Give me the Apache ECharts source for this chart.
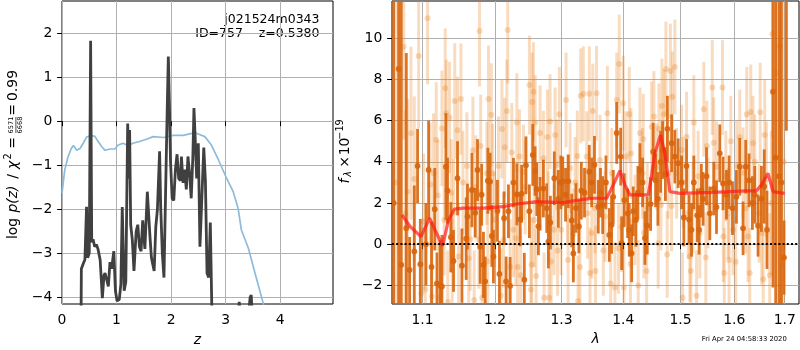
<!DOCTYPE html>
<html>
<head>
<meta charset="utf-8">
<script src="https://cdn.jsdelivr.net/npm/echarts@6.0.0/dist/echarts.min.js"></script>
<style>
  html, body { margin: 0; padding: 0; background: #fff; }
  #main { width: 800px; height: 350px; }
</style>
</head>
<body>
<div id="main"></div>
<script>
// ---- data ----
const zTicks = [0, 1, 2, 3, 4];
const logpTicks = [-4, -3, -2, -1, 0, 1, 2];
const lamTicks = [1.1, 1.2, 1.3, 1.4, 1.5, 1.6, 1.7];
const fluxTicks = [-2, 0, 2, 4, 6, 8, 10];

// blue curve, left panel [z, value]
const priorCurve = [[0,-1.64],[0.05,-1.11],[0.11,-0.81],[0.17,-0.62],[0.21,-0.55],[0.27,-0.66],[0.33,-0.62],
  [0.39,-0.5],[0.45,-0.36],[0.52,-0.33],[0.60,-0.34],[0.67,-0.47],[0.73,-0.58],[0.79,-0.66],[0.88,-0.63],
  [0.97,-0.63],[1.03,-0.54],[1.12,-0.5],[1.21,-0.55],[1.30,-0.5],[1.42,-0.46],[1.55,-0.41],[1.67,-0.35],
  [1.86,-0.37],[2.04,-0.32],[2.22,-0.32],[2.44,-0.26],[2.62,-0.35],[2.74,-0.54],[2.87,-0.88],[3.02,-1.30],
  [3.14,-1.60],[3.23,-1.98],[3.29,-2.47],[3.42,-2.89],[3.54,-3.45],[3.69,-4.13],[3.75,-4.5]];

// dark curve, left panel [z, log p(z)]
const pzCurve = [[0.35,-4.4],[0.355,-3.35],[0.38,-3.35],[0.40,-3.2],[0.42,-3.15],[0.45,-1.94],[0.47,-3.1],
  [0.50,-3.0],[0.525,1.83],[0.545,-2.75],[0.57,-2.68],[0.60,-2.85],[0.63,-2.8],[0.66,-2.9],[0.70,-3.15],
  [0.74,-4.02],[0.77,-3.5],[0.79,-3.45],[0.82,-3.6],[0.85,-3.75],[0.88,-3.2],[0.91,-3.35],[0.95,-2.95],
  [0.98,-3.85],[1.01,-4.08],[1.05,-4.05],[1.08,-3.7],[1.105,-1.95],[1.14,-3.85],[1.17,-3.65],[1.205,-0.05],
  [1.225,-1.3],[1.24,-0.2],[1.26,-2.35],[1.29,-2.7],[1.32,-3.4],[1.36,-2.5],[1.39,-2.35],[1.42,-2.85],
  [1.45,-2.95],[1.48,-2.25],[1.52,-2.9],[1.565,-1.6],[1.61,-2.55],[1.64,-3.1],[1.69,-3.4],[1.72,-2.4],
  [1.75,-2.0],[1.79,-0.68],[1.81,-1.95],[1.84,-3.0],[1.87,-3.55],[1.90,-1.6],[1.93,0.3],[1.95,1.47],
  [1.97,0.4],[1.99,-0.9],[2.02,-1.75],[2.05,-1.8],[2.08,-1.1],[2.11,-0.75],[2.14,-1.3],[2.17,-1.35],
  [2.19,-0.8],[2.22,-1.4],[2.25,-1.1],[2.28,-1.55],[2.31,-0.8],[2.34,-1.2],[2.37,-1.75],[2.40,-0.8],
  [2.42,0.3],[2.44,-0.3],[2.47,-1.3],[2.50,-0.5],[2.53,-2.85],[2.56,-1.9],[2.60,-0.6],[2.63,-1.35],
  [2.66,-3.45],[2.69,-3.55],[2.72,-2.3],[2.75,-4.4]];
const pzTail1 = [[3.23,-4.4],[3.25,-4.1],[3.27,-4.4]];
const pzTail2 = [[3.42,-4.4],[3.45,-4.0],[3.47,-3.95],[3.49,-4.4]];

// right panel, light points [lambda, flux, err]
const specLight = [[1.0659,3.0,9],[1.0753,9.58,4.5],[1.0774,1.5,5],[1.0804,2.54,4.5],[1.0848,5.38,4.2],
  [1.0891,3.17,4.0],[1.0948,9.13,3.5],[1.0983,-2.38,3.2],[1.1014,1.1,3.3],[1.1036,-2.2,3.0],[1.1066,10.96,3.2],
  [1.1102,2.9,3.0],[1.1125,-2.54,2.8],[1.1146,3.45,2.9],[1.1182,5.06,2.8],[1.1203,2.36,2.7],[1.1227,-2.6,2.6],
  [1.1259,5.62,2.8],[1.1290,1.18,2.7],[1.1304,7.57,2.9],[1.1318,6.35,2.6],[1.1338,-2.8,2.5],[1.1362,6.15,2.7],
  [1.1386,2.5,2.6],[1.1399,-1.25,2.5],[1.1417,1.54,2.6],[1.1434,6.95,2.8],[1.1472,5.53,2.6],[1.1486,-0.6,2.6],
  [1.1519,7.04,2.7],[1.1547,3.0,2.5],[1.1602,3.8,2.6],[1.1627,-0.68,2.4],[1.1648,0.24,2.5],[1.1686,4.56,2.6],
  [1.1704,-2.7,2.4],[1.1726,2.78,2.5],[1.1771,0.24,2.4],[1.1779,10.35,2.7],[1.1796,4.76,2.5],[1.1817,-2.6,2.4],
  [1.1884,3.44,2.5],[1.1896,-0.83,2.4],[1.1907,7.04,2.6],[1.1948,6.28,2.5],[1.1967,3.44,2.4],[1.1996,1.2,2.3],
  [1.2051,3.8,2.4],[1.2086,-2.5,2.3],[1.2101,5.59,2.4],[1.2124,0.2,2.3],[1.2141,4.7,2.4],[1.2173,6.46,2.5],
  [1.2185,10.39,2.6],[1.2221,-1.1,2.3],[1.2246,4.45,2.4],[1.2270,0.7,2.3],[1.2305,0.29,2.3],[1.2320,5.9,2.4],
  [1.2332,-1.1,2.3],[1.2359,4.25,2.3],[1.2377,-1.5,2.3],[1.2418,3.5,2.3],[1.2444,2.78,2.3],[1.2508,7.72,2.4],
  [1.2530,-2.2,2.3],[1.2541,-1.0,2.3],[1.2548,6.9,2.4],[1.2568,7.4,2.4],[1.2578,1.18,2.3],[1.2594,5.9,2.3],
  [1.2609,-1.54,2.3],[1.2669,5.4,2.3],[1.2720,4.17,2.3],[1.2730,-2.6,2.2],[1.2781,5.2,2.3],[1.2796,1.34,2.2],
  [1.2807,-2.6,2.2],[1.2822,5.95,2.3],[1.2838,-0.84,2.2],[1.2884,0.7,2.2],[1.2900,5.3,2.3],[1.2926,3.84,2.2],
  [1.2938,-0.3,2.2],[1.2966,6.3,2.3],[1.2993,0.7,2.2],[1.3071,7.0,2.3],[1.3095,2.15,2.2],[1.3103,-0.76,2.2],
  [1.3134,3.7,2.2],[1.3186,0.5,2.2],[1.3213,3.0,2.2],[1.3249,4.28,2.2],[1.3260,-2.75,2.2],[1.3292,-1.1,2.2],
  [1.3303,7.2,2.3],[1.3345,7.3,2.3],[1.3400,4.25,2.2],[1.3413,1.5,2.2],[1.3442,7.3,2.3],[1.3453,-1.4,2.2],
  [1.3481,0.54,2.2],[1.3497,6.46,2.3],[1.3534,1.75,2.2],[1.3542,-1.3,2.2],[1.3558,7.32,2.3],[1.3615,4.08,2.2],
  [1.3670,-0.3,2.2],[1.3698,1.34,2.2],[1.3736,6.35,2.3],[1.3792,-1.9,2.2],[1.3808,3.44,2.2],[1.3863,-2.1,2.2],
  [1.3891,7.0,2.3],[1.3921,-0.2,2.2],[1.3934,8.74,2.4],[1.3975,0.85,2.2],[1.4001,6.84,2.3],[1.4013,-2.1,2.2],
  [1.4047,4.25,2.2],[1.4102,6.3,2.3],[1.4123,-0.96,2.2],[1.4131,4.4,2.2],[1.4200,1.18,2.2],[1.4256,-2.0,2.2],
  [1.4285,5.4,2.2],[1.4328,3.44,2.2],[1.4342,5.1,2.2],[1.4354,0.54,2.2],[1.4400,-1.3,2.2],[1.4411,1.75,2.2],
  [1.4487,5.7,2.2],[1.4527,6.2,2.2],[1.4574,3.76,2.1],[1.4602,0.05,2.2],[1.4615,5.6,2.2],[1.4650,1.9,2.2],
  [1.4667,6.7,2.3],[1.4702,6.3,2.2],[1.4738,8.5,2.3],[1.4761,-0.5,2.1],[1.4778,3.44,2.2],[1.4817,8.4,2.3],
  [1.4838,1.85,2.2],[1.4853,7.15,2.2],[1.4898,8.6,2.3],[1.4928,3.44,2.2],[1.5018,4.57,2.2],[1.5036,-2.6,2.2],
  [1.5047,3.0,2.2],[1.5108,5.2,2.2],[1.5137,1.5,2.2],[1.5168,-0.6,2.2],[1.5186,-1.3,2.2],[1.5223,1.75,2.2],
  [1.5241,5.9,2.3],[1.5291,-2.5,2.2],[1.5320,3.3,2.2],[1.5351,0.54,2.2],[1.5425,6.55,2.3],[1.5462,-0.65,2.2],
  [1.5481,4.76,2.2],[1.5505,2.0,2.2],[1.5583,7.6,2.3],[1.5611,4.92,2.2],[1.5662,3.76,2.2],[1.5775,7.6,2.3],
  [1.5791,0.37,2.2],[1.5810,-1.4,2.2],[1.5838,3.3,2.2],[1.5882,1.5,2.2],[1.5901,-0.77,2.2],[1.5933,5.0,2.2],
  [1.5977,0.7,2.2],[1.6029,-0.85,2.2],[1.6048,3.8,2.2],[1.6106,5.2,2.3],[1.6170,3.47,2.2],[1.6222,1.75,2.2],
  [1.6242,6.3,2.3],[1.6267,0.37,2.2],[1.6300,-1.4,2.2],[1.6320,6.42,2.3],[1.6365,4.9,2.3],[1.6399,4.0,2.3],
  [1.6487,1.5,2.4],[1.6507,6.4,2.4],[1.6537,0.54,2.5],[1.6567,-1.7,2.6],[1.6597,5.3,2.7],[1.6630,3.15,2.8],
  [1.6696,-1.5,3.0],[1.6730,2.0,3.5],[1.6751,10.2,5],[1.6817,8.3,6],[1.6898,9.6,6],[1.6933,-1.0,6],[1.6980,4.0,10]];

// right panel, dark points [lambda, flux, err]
const specDark = [[1.0624,2.0,16],[1.0688,8.5,12],[1.0722,-1.0,13],[1.0787,0.78,8.5],[1.0830,-1.25,1.6],
  [1.0891,-0.35,3.2],[1.0934,3.8,1.8],[1.0970,-0.97,2.2],[1.1045,0.0,2.0],[1.1080,3.6,2.4],[1.1119,-1.1,2.2],
  [1.1162,1.7,2.0],[1.1192,-1.9,1.5],[1.1236,-2.0,2.2],[1.1259,-2.05,2.5],[1.1313,3.76,2.6],[1.1335,2.6,1.6],
  [1.1381,0.34,1.7],[1.1417,-0.81,1.5],[1.1472,3.2,1.8],[1.1533,-1.04,1.8],[1.1592,0.27,2.0],[1.1610,1.34,1.6],
  [1.1672,2.63,1.8],[1.1718,1.53,1.2],[1.1751,3.6,1.5],[1.1789,-0.12,1.8],[1.1810,2.4,1.5],[1.1835,-1.0,1.6],
  [1.1860,-1.8,1.2],[1.1898,3.08,1.6],[1.1931,3.04,1.4],[1.1955,0.4,1.5],[1.1978,-0.6,1.3],[1.2036,1.62,1.5],
  [1.2065,-1.44,1.6],[1.2133,1.26,1.3],[1.2162,-1.8,1.2],[1.2196,1.6,1.3],[1.2221,-2.02,1.4],[1.2270,2.99,1.2],
  [1.2320,2.42,1.5],[1.2369,1.2,1.3],[1.2391,2.45,1.4],[1.2431,-1.72,1.3],[1.2456,3.83,1.4],[1.2507,1.6,1.3],
  [1.2558,4.33,1.5],[1.2593,3.55,1.2],[1.2619,2.67,1.3],[1.2643,0.87,1.4],[1.2669,1.96,1.3],[1.2719,2.7,1.4],
  [1.2771,1.75,1.2],[1.2796,0.13,1.3],[1.2827,1.05,1.3],[1.2887,3.2,1.3],[1.2950,2.2,1.4],[1.2989,3.0,1.3],
  [1.3019,3.05,1.2],[1.3063,2.4,1.3],[1.3107,3.05,1.3],[1.3160,1.15,1.3],[1.3186,-0.45,1.4],[1.3228,1.76,1.2],
  [1.3274,0.86,1.3],[1.3313,2.6,1.4],[1.3364,2.5,1.2],[1.3441,3.52,1.3],[1.3480,3.0,1.2],[1.3525,3.85,1.4],
  [1.3587,1.82,1.3],[1.3623,2.5,1.2],[1.3659,1.9,1.4],[1.3713,3.0,1.3],[1.3768,0.45,1.3],[1.3807,0.94,1.4],
  [1.3834,2.3,1.3],[1.3891,5.4,1.5],[1.3958,4.25,1.4],[1.3974,0.05,1.3],[1.4018,2.14,1.3],[1.4075,1.5,1.2],
  [1.4102,0.7,1.3],[1.4143,-0.44,1.4],[1.4170,1.6,1.2],[1.4216,1.18,1.3],[1.4250,2.5,1.3],[1.4285,3.6,1.3],
  [1.4331,3.0,1.2],[1.4371,0.3,1.3],[1.4410,0.9,1.4],[1.4469,1.95,1.3],[1.4514,4.49,1.4],[1.4556,3.1,1.3],
  [1.4597,2.2,1.3],[1.4644,4.0,1.5],[1.4679,4.57,1.4],[1.4729,3.4,1.3],[1.4764,5.6,1.6],[1.4839,4.9,1.4],
  [1.4897,4.25,1.3],[1.4957,3.93,1.2],[1.5018,3.0,1.3],[1.5059,1.3,1.4],[1.5108,3.8,1.3],[1.5155,1.2,1.2],
  [1.5199,0.7,1.3],[1.5241,3.0,1.3],[1.5302,1.4,1.3],[1.5338,0.7,1.2],[1.5379,2.6,1.3],[1.5412,2.2,1.3],
  [1.5475,3.3,1.4],[1.5537,1.5,1.3],[1.5611,2.7,1.3],[1.5662,1.8,1.3],[1.5724,4.41,1.4],[1.5786,2.95,1.3],
  [1.5851,2.4,1.2],[1.5901,3.0,1.3],[1.5966,1.75,1.3],[1.6042,2.3,1.3],[1.6106,3.76,1.4],[1.6170,0.77,1.3],
  [1.6222,3.76,1.3],[1.6287,3.1,1.3],[1.6353,2.0,1.3],[1.6399,2.4,1.4],[1.6464,0.9,1.5],[1.6531,2.2,1.6],
  [1.6587,2.8,1.8],[1.6642,0.7,1.9],[1.6763,7.4,9.5],[1.6817,4.2,8.0],[1.6884,3.3,9.0],[1.6933,3.0,16],
  [1.6986,-0.65,1.8],[1.7035,14.0,8.5]];

// red model [lambda, flux]
const modelCurve = [[1.0731,1.42],[1.0839,0.85],[1.0979,0.37],[1.1093,1.26],[1.1146,0.85],[1.1267,-0.08],
  [1.1349,1.18],[1.1427,1.70],[1.1555,1.75],[1.1835,1.75],[1.2123,1.82],[1.2319,1.95],[1.2619,2.07],
  [1.3028,2.02],[1.3344,2.18],[1.3505,2.23],[1.3725,2.23],[1.3834,2.88],[1.3946,3.57],[1.4030,2.88],
  [1.4114,2.39],[1.4427,2.39],[1.4469,3.04],[1.4544,4.41],[1.4643,5.30],[1.4720,4.41],[1.4808,2.55],
  [1.4987,2.47],[1.5599,2.52],[1.6237,2.59],[1.6433,2.59],[1.6532,2.88],[1.6663,3.44],[1.6764,2.55],
  [1.7000,2.47]];

// ---- chart ----
const FONT = 'DejaVu Sans';
const minus = v => (v < 0 ? '\u2212' + Math.abs(v) : String(v));
const ln = Math.log;

let myChart = echarts.init(document.getElementById('main'));

// error bar with dot, drawn through the axes
function errBar(color, barW, r, alpha) {
  return function (params, api) {
    const x = api.value(0), y = api.value(1), e = api.value(2);
    const lo = api.coord([x, y - e]);
    const hi = api.coord([x, y + e]);
    const c = api.coord([x, y]);
    return {
      type: 'group',
      children: [
        { type: 'line', shape: { x1: lo[0], y1: lo[1], x2: hi[0], y2: hi[1] },
          style: { stroke: color, lineWidth: barW, opacity: alpha } },
        { type: 'circle', shape: { cx: c[0], cy: c[1], r: r },
          style: { fill: color, opacity: alpha } }
      ]
    };
  };
}

function axisBits(ticks, fmt, margin) {
  return {
    axisLine: { show: false },
    axisTick: { show: true, length: 4.9, customValues: ticks, lineStyle: { color: '#000', width: 1 } },
    axisLabel: { customValues: ticks, formatter: fmt, margin: margin, color: '#000', fontFamily: FONT, fontSize: 13.9 },
    splitLine: { show: true, lineStyle: { color: '#b0b0b0', width: 1 } }
  };
}

function txt(text, x, y, size, align, extra) {
  return {
    type: 'text', x: x, y: y, silent: true,
    style: Object.assign({
      text: text, fill: '#000', fontFamily: FONT, fontSize: size,
      align: align, textAlign: align, verticalAlign: 'middle', textVerticalAlign: 'middle'
    }, extra || {})
  };
}

let option = {
  animation: false,
  backgroundColor: '#fff',
  grid: [
    { left: 62, top: 1, width: 271, height: 303, show: true, borderColor: '#000', borderWidth: 1, containLabel: false },
    { left: 392, top: 1, width: 407, height: 303, show: true, borderColor: '#000', borderWidth: 1, containLabel: false }
  ],
  xAxis: [
    Object.assign({ type: 'value', gridIndex: 0, min: 0, max: 4.97 }, axisBits(zTicks, v => String(v), 9.7)),
    Object.assign({ type: 'value', gridIndex: 1, min: ln(1.0603), max: ln(1.7295) },
      axisBits(lamTicks.map(ln), v => Math.exp(v).toFixed(1), 9.7))
  ],
  yAxis: [
    Object.assign({ type: 'value', gridIndex: 0, min: -4.15, max: 2.73 }, axisBits(logpTicks, minus, 9.7)),
    Object.assign({ type: 'value', gridIndex: 1, min: -2.9, max: 11.8 }, axisBits(fluxTicks, minus, 9.7))
  ],
  series: [
    { type: 'line', xAxisIndex: 0, yAxisIndex: 0, data: priorCurve, symbol: 'none', z: 2,
      lineStyle: { color: '#8ebbdb', width: 1.7 } },
    { type: 'line', xAxisIndex: 0, yAxisIndex: 0, data: pzCurve, symbol: 'none', z: 3,
      lineStyle: { color: '#404040', width: 2.8 } },
    { type: 'line', xAxisIndex: 0, yAxisIndex: 0, data: pzTail1, symbol: 'none', z: 3,
      lineStyle: { color: '#404040', width: 2.8 } },
    { type: 'line', xAxisIndex: 0, yAxisIndex: 0, data: pzTail2, symbol: 'none', z: 3,
      lineStyle: { color: '#404040', width: 2.8 } },
    { type: 'custom', xAxisIndex: 1, yAxisIndex: 1, clip: true, z: 2,
      data: specLight.map(d => [ln(d[0]), d[1], d[2]]),
      encode: { x: 0, y: 1 },
      renderItem: errBar('#e8801c', 3, 3, 0.28) },
    { type: 'custom', xAxisIndex: 1, yAxisIndex: 1, clip: true, z: 3,
      data: specDark.map(d => [ln(d[0]), d[1], d[2]]),
      encode: { x: 0, y: 1 },
      renderItem: errBar('#d8650c', 2.8, 2.9, 0.9) },
    { type: 'line', xAxisIndex: 1, yAxisIndex: 1, z: 4, symbol: 'none',
      data: modelCurve.map(d => [ln(d[0]), d[1]]),
      lineStyle: { color: 'rgba(255,25,25,0.7)', width: 3.2 },
      markLine: {
        silent: true, symbol: ['none', 'none'], label: { show: false },
        lineStyle: { color: '#000', type: [2, 2.2], width: 1.9 },
        data: [{ yAxis: 0 }]
      } }
  ],
  graphic: [
    txt('j021524m0343', 319.5, 20, 12.5, 'right'),
    txt('ID=757    z=0.5380', 319.5, 34, 12.5, 'right'),
    txt('z', 197.5, 340, 13.9, 'center', { fontStyle: 'italic' }),
    txt('\u03bb', 595.5, 339, 13.9, 'center', { fontStyle: 'italic' }),
    txt('Fri Apr 24 04:58:33 2020', 786.7, 339.5, 6.8, 'right'),
    // left y label, rotated
    {
      type: 'group', x: 13.5, y: 154, rotation: Math.PI / 2, silent: true,
      children: [
        txt('log', -74.5, 0, 13.9, 'center'),
        txt('p(z)', -45, 0, 13.9, 'center', { fontStyle: 'italic' }),
        txt('/', -22.5, 0, 13.9, 'center'),
        txt('\u03c7', -11, 0, 13.9, 'center', { fontStyle: 'italic' }),
        txt('2', -2.5, -5, 9.7, 'center'),
        txt('=', 11, 0, 13.9, 'center'),
        txt('6571', 29, -2.2, 6.6, 'center'),
        { type: 'line', shape: { x1: 21, y1: 2.4, x2: 37, y2: 2.4 }, style: { stroke: '#000', lineWidth: 0.7 } },
        txt('6668', 29, 7, 6.6, 'center'),
        txt('=', 44, 0, 13.9, 'center'),
        txt('0.99', 68.5, 0, 13.9, 'center')
      ]
    },
    // right y label, rotated
    {
      type: 'group', x: 345, y: 153, rotation: Math.PI / 2, silent: true,
      children: [
        txt('f', -28, 0, 13.9, 'center', { fontStyle: 'italic' }),
        txt('\u03bb', -21, 3, 9.7, 'center', { fontStyle: 'italic' }),
        txt('\u00d7', -9, 0, 13.9, 'center'),
        txt('10', 6.5, 0, 13.9, 'center'),
        txt('\u221219', 23.5, -4.5, 9.7, 'center')
      ]
    }
  ]
};

myChart.setOption(option);
</script>
</body>
</html>
